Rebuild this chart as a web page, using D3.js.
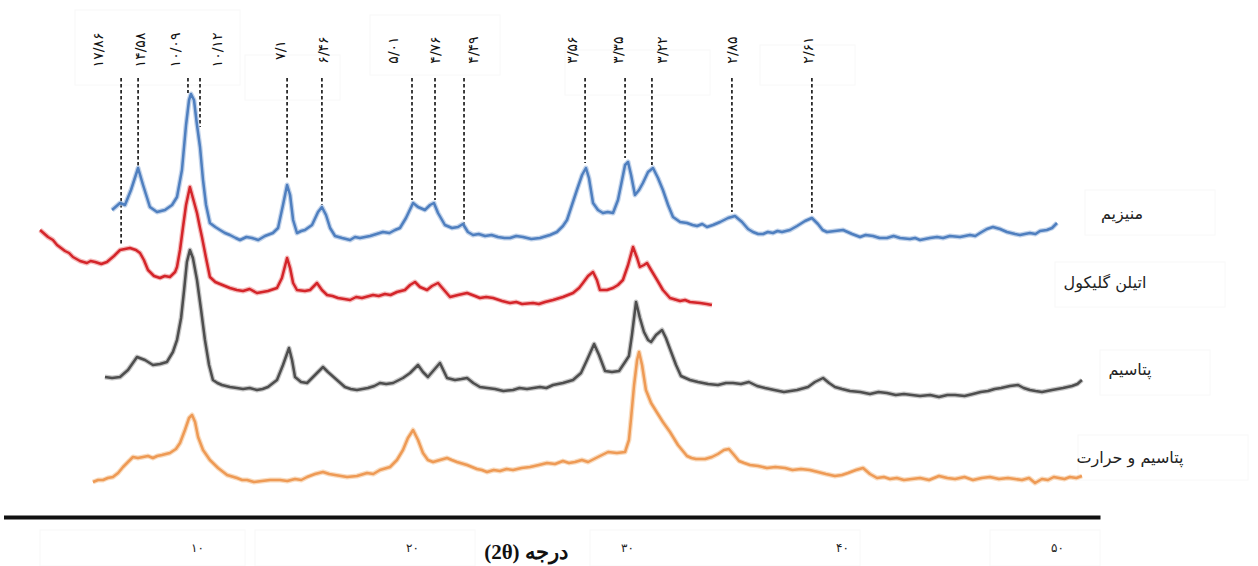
<!DOCTYPE html>
<html>
<head>
<meta charset="utf-8">
<script src="https://cdn.jsdelivr.net/npm/d3@7"></script>
<style>
  html, body { margin: 0; padding: 0; background: #fff; }
  svg { display: block; }
</style>
</head>
<body>
<svg id="chart" width="1258" height="566"></svg>
<script>
// ---------------- DATA ----------------
// x: 2θ (degrees), y: relative intensity (stacked, arbitrary units)
const magnesium = [
  [6.05,330],[6.42,337],[6.65,335],[6.93,350],[7.26,372],[7.49,355],[7.81,333],[8.14,328],[8.51,330],[8.84,335],
  [9.07,343],[9.30,370],[9.49,415],[9.63,440],[9.72,446],[9.86,440],[10.00,415],[10.14,393],[10.28,360],[10.42,335],
  [10.60,317],[10.85,313],[11.07,310],[11.30,307],[11.53,305],[11.80,302],[12.00,300],[12.30,303],[12.56,302],[12.85,300],
  [13.16,304],[13.53,307],[13.77,312],[14.00,335],[14.19,355],[14.33,345],[14.47,320],[14.65,307],[14.85,309],[15.02,310],
  [15.35,315],[15.63,328],[15.81,333],[16.00,325],[16.19,312],[16.42,304],[16.75,302],[17.12,300],[17.35,303],[17.58,302],
  [18.05,304],[18.35,306],[18.65,308],[18.95,307],[19.21,310],[19.44,312],[19.72,322],[20.05,337],[20.28,333],[20.60,330],
  [20.84,335],[21.02,337],[21.21,327],[21.53,315],[21.86,312],[22.14,313],[22.37,316],[22.60,308],[22.84,305],[23.10,306],
  [23.40,304],[23.70,305],[24.00,303],[24.30,302],[24.56,302],[24.85,304],[25.16,303],[25.55,301],[25.95,302],[26.42,305],
  [26.74,308],[27.02,314],[27.21,320],[27.44,335],[27.67,350],[27.91,365],[28.09,372],[28.23,362],[28.42,337],[28.65,330],
  [28.88,327],[29.10,328],[29.35,327],[29.58,340],[29.77,360],[29.91,375],[30.05,378],[30.19,365],[30.37,345],[30.56,350],
  [30.74,357],[30.98,368],[31.21,372],[31.44,362],[31.67,350],[31.91,335],[32.14,323],[32.47,318],[32.79,317],[33.05,315],
  [33.26,314],[33.50,316],[33.72,313],[34.00,315],[34.33,318],[34.70,322],[35.02,324],[35.35,318],[35.63,311],[35.86,308],
  [36.10,306],[36.33,306],[36.55,308],[36.79,307],[37.00,309],[37.21,308],[37.58,310],[37.91,314],[38.28,319],[38.60,322],
  [38.88,316],[39.10,310],[39.30,308],[39.67,309],[40.05,310],[40.47,306],[40.84,303],[41.10,305],[41.44,304],[41.75,302],
  [42.09,302],[42.40,304],[42.70,302],[43.16,301],[43.40,302],[43.63,300],[44.09,302],[44.42,303],[44.70,302],[45.02,304],
  [45.49,303],[45.95,305],[46.20,304],[46.42,307],[46.74,311],[47.02,313],[47.35,311],[47.67,308],[48.05,306],[48.28,305],
  [48.50,306],[48.74,307],[49.00,306],[49.21,309],[49.53,310],[49.77,312],[50.00,317]
];

const ethyleneGlycol = [
  [2.70,310],[3.07,303],[3.30,300],[3.49,295],[3.86,289],[4.05,287],[4.23,283],[4.56,279],[4.88,277],[5.05,279],
  [5.26,278],[5.55,276],[5.81,278],[6.14,284],[6.42,290],[6.65,291],[6.88,292],[7.16,290],[7.35,287],[7.53,280],
  [7.72,270],[8.00,264],[8.28,262],[8.50,264],[8.74,263],[8.98,268],[9.07,273],[9.21,290],[9.35,313],[9.49,335],
  [9.67,353],[9.81,342],[10.00,327],[10.14,312],[10.23,303],[10.42,282],[10.60,263],[10.85,258],[11.07,256],[11.30,254],
  [11.53,252],[11.85,250],[12.14,249],[12.45,251],[12.79,247],[13.05,248],[13.30,249],[13.72,252],[13.95,262],[14.19,282],
  [14.33,272],[14.47,257],[14.65,250],[15.02,249],[15.26,250],[15.58,257],[15.81,250],[16.05,245],[16.30,244],[16.56,242],
  [16.85,241],[17.12,240],[17.40,243],[17.67,242],[18.19,245],[18.45,244],[18.74,246],[19.00,245],[19.30,248],[19.67,250],
  [19.91,255],[20.14,258],[20.37,253],[20.70,250],[20.93,254],[21.21,257],[21.49,250],[21.77,243],[22.14,245],[22.56,247],
  [22.93,244],[23.16,242],[23.45,243],[23.77,242],[24.19,239],[24.56,237],[24.85,238],[25.12,236],[25.63,237],[25.90,236],
  [26.19,238],[26.56,240],[27.02,243],[27.49,247],[27.77,252],[27.95,257],[28.19,264],[28.42,268],[28.60,260],[28.74,250],
  [29.07,250],[29.35,252],[29.58,255],[29.81,260],[30.05,275],[30.28,293],[30.47,282],[30.60,273],[30.79,275],[30.93,277],
  [31.12,270],[31.40,260],[31.67,250],[32.00,242],[32.47,239],[32.70,240],[32.93,238],[33.40,237],[33.70,236],[33.95,235]
];

const potassium = [
  [5.72,163],[6.05,162],[6.42,163],[6.79,170],[7.21,183],[7.58,180],[7.95,175],[8.28,176],[8.60,178],[8.88,188],
  [9.07,200],[9.26,222],[9.40,250],[9.53,278],[9.67,290],[9.81,282],[10.00,260],[10.19,230],[10.37,200],[10.56,175],
  [10.74,160],[10.95,157],[11.16,155],[11.53,153],[11.85,152],[12.14,151],[12.45,152],[12.79,150],[13.05,151],[13.30,153],
  [13.72,160],[14.00,175],[14.28,192],[14.42,180],[14.56,163],[14.84,158],[15.12,157],[15.49,165],[15.86,173],[16.09,168],
  [16.51,160],[16.88,153],[17.15,151],[17.44,150],[17.95,152],[18.25,154],[18.51,157],[18.80,156],[19.12,157],[19.58,162],
  [19.91,167],[20.28,175],[20.51,168],[20.74,163],[21.02,170],[21.30,177],[21.63,162],[22.00,160],[22.30,161],[22.56,162],
  [22.85,157],[23.16,153],[23.50,152],[23.86,151],[24.25,149],[24.70,150],[25.00,152],[25.35,151],[25.95,153],[26.25,152],
  [26.56,155],[27.02,157],[27.49,160],[27.86,167],[28.14,180],[28.47,196],[28.70,185],[28.98,169],[29.30,168],[29.63,169],
  [29.91,178],[30.09,184],[30.23,205],[30.42,238],[30.60,222],[30.79,208],[30.98,200],[31.12,198],[31.35,205],[31.63,210],
  [31.81,202],[32.00,191],[32.28,175],[32.51,164],[32.93,160],[33.30,158],[33.77,156],[34.23,155],[34.60,157],[34.93,157],
  [35.30,156],[35.67,158],[36.05,154],[36.42,152],[36.85,150],[37.30,148],[37.91,150],[38.42,153],[38.74,158],[39.12,162],
  [39.40,157],[39.67,153],[40.00,151],[40.37,149],[40.85,148],[41.30,146],[41.70,148],[42.09,147],[42.50,145],[42.88,146],
  [43.25,145],[43.63,144],[44.10,145],[44.51,143],[44.90,145],[45.26,145],[45.70,144],[46.09,146],[46.45,148],[46.79,149],
  [47.10,151],[47.40,152],[47.81,154],[48.19,155],[48.45,152],[48.74,150],[49.00,149],[49.30,148],[49.77,150],[50.28,152],
  [50.70,154],[50.95,156],[51.16,160]
];

const potassiumHeat = [
  [5.16,58],[5.40,60],[5.63,60],[5.85,62],[6.09,63],[6.33,67],[6.56,73],[6.79,78],[7.02,83],[7.25,82],
  [7.49,83],[7.72,84],[7.95,82],[8.15,84],[8.37,85],[8.55,86],[8.74,87],[9.02,91],[9.21,97],[9.44,110],
  [9.63,122],[9.77,125],[9.91,118],[10.05,103],[10.28,90],[10.60,80],[10.98,72],[11.40,65],[11.86,62],[12.10,60],
  [12.33,60],[12.65,58],[13.02,59],[13.40,60],[13.86,60],[14.20,59],[14.56,61],[14.85,60],[15.12,63],[15.49,66],
  [15.86,68],[16.15,66],[16.42,65],[16.70,64],[16.98,63],[17.44,64],[17.91,67],[18.20,66],[18.51,70],[18.98,73],
  [19.30,80],[19.58,90],[19.81,102],[20.05,110],[20.28,100],[20.51,87],[20.74,80],[20.98,78],[21.30,80],[21.63,82],
  [21.85,80],[22.09,78],[22.56,75],[23.02,71],[23.25,70],[23.49,68],[23.80,70],[24.09,69],[24.40,71],[24.70,70],
  [25.10,72],[25.49,73],[25.90,75],[26.28,77],[26.65,76],[27.02,79],[27.30,77],[27.58,78],[27.90,80],[28.19,78],
  [28.65,83],[29.12,88],[29.53,87],[29.91,88],[30.09,100],[30.19,122],[30.33,155],[30.47,180],[30.56,188],[30.70,175],
  [30.88,150],[31.12,137],[31.35,129],[31.67,118],[32.00,108],[32.37,95],[32.79,84],[33.00,82],[33.21,81],[33.63,81],
  [33.95,83],[34.23,86],[34.51,90],[34.74,91],[34.98,85],[35.21,79],[35.45,77],[35.72,75],[36.10,74],[36.51,72],
  [36.90,73],[37.35,72],[37.70,70],[38.09,71],[38.50,70],[38.88,68],[39.25,66],[39.67,64],[40.00,65],[40.28,67],
  [40.65,70],[40.98,72],[41.30,66],[41.63,62],[41.95,63],[42.23,61],[42.55,62],[42.88,60],[43.25,61],[43.63,62],
  [44.05,60],[44.51,64],[44.90,62],[45.26,61],[45.70,63],[46.09,60],[46.50,62],[46.88,63],[47.30,61],[47.72,62],
  [48.05,61],[48.37,60],[48.70,62],[48.98,57],[49.30,61],[49.58,60],[49.85,63],[50.09,62],[50.35,61],[50.60,63],
  [50.90,62],[51.16,64]
];

// d-spacing annotations (Å, Persian digits)
const peakLabels = ["۱۷/۸۶","۱۴/۵۸","۱۰/۰۹","۱۰/۱۲","۷/۱","۶/۴۶","۵/۰۱","۴/۷۶","۴/۴۹","۳/۵۶","۳/۳۵","۳/۲۲","۲/۸۵","۲/۶۱"];
const peakTheta   = [6.47, 7.26, 9.58, 10.14, 14.19, 15.81, 20.00, 21.07, 22.42, 28.05, 29.91, 31.16, 34.88, 38.60];
const peakEnd     = [295, 372, 447, 413, 360, 335, 340, 340, 312, 377, 382, 375, 328, 327];
const labelTheta  = [5.40, 7.35, 8.98, 10.93, 13.86, 15.86, 19.12, 21.07, 22.84, 27.44, 29.58, 31.63, 34.88, 38.42];

const seriesNames  = ["منیزیم","اتیلن گلیکول","پتاسیم","پتاسیم و حرارت"];
const tickValues   = [10, 20, 30, 40, 50];
const tickLabels   = ["۱۰","۲۰","۳۰","۴۰","۵۰"];
const axisTitle    = "درجه (2θ)";

// ---------------- LAYOUT / STYLE ----------------
const svg = d3.select("#chart");
const x = d3.scaleLinear().domain([1, 52]).range([3.5, 1100]);
const y = d3.scaleLinear().domain([0, 500]).range([540, 40]);

const seriesData   = [magnesium, ethyleneGlycol, potassium, potassiumHeat];
const seriesColors = ["#4f7fbf", "#d4252a", "#4e4e4e", "#ee9a55"];
const haloColors   = ["#a9c2e2", "#f0a0a0", "#b0b0b0", "#f6cda5"];
const legendPos    = [[1122, 219], [1105, 288], [1130, 375], [1130, 463]];

const line = d3.line().x(d => x(d[0])).y(d => y(d[1])).curve(d3.curveLinear);

// faint scan boxes (background)
const boxes = [[75,10,165,75],[245,55,95,45],[370,15,130,60],[565,50,145,45],[760,45,95,40],
               [1085,190,130,45],[1055,262,170,45],[1100,350,110,45],[1078,435,170,45],
               [40,530,205,36],[255,530,220,36],[590,530,270,36],[990,530,110,36]];
svg.append("g").selectAll("rect").data(boxes).join("rect")
  .attr("x", d => d[0]).attr("y", d => d[1]).attr("width", d => d[2]).attr("height", d => d[3])
  .attr("fill", "none").attr("stroke", "#f8f8f8").attr("stroke-width", 1);

// dashed drop lines
const dashTop = 462;
svg.append("g").selectAll("line").data(peakTheta).join("line")
  .attr("x1", d => x(d)).attr("x2", d => x(d))
  .attr("y1", y(dashTop)).attr("y2", (d, i) => y(peakEnd[i]))
  .attr("stroke", "#111").attr("stroke-width", 1.6).attr("stroke-dasharray", "3.5,2.5");

// peak labels (rotated)
svg.append("g").selectAll("text").data(peakLabels).join("text")
  .attr("transform", (d, i) => `translate(${x(labelTheta[i]) + 5},50) rotate(-90)`)
  .attr("text-anchor", "middle")
  .attr("font-family", "'DejaVu Sans', 'Noto Sans', sans-serif")
  .attr("font-size", 14)
  .attr("fill", "#111")
  .text(d => d);

// series halos + lines
const gLines = svg.append("g");
seriesData.forEach((s, i) => {
  gLines.append("path").datum(s).attr("d", line)
    .attr("fill", "none").attr("stroke", haloColors[i]).attr("stroke-width", 5)
    .attr("stroke-linejoin", "round").attr("stroke-opacity", 0.7);
});
seriesData.forEach((s, i) => {
  gLines.append("path").datum(s).attr("d", line)
    .attr("fill", "none").attr("stroke", seriesColors[i]).attr("stroke-width", 2.5)
    .attr("stroke-linejoin", "round");
});

// legend labels
svg.append("g").selectAll("text").data(seriesNames).join("text")
  .attr("x", (d, i) => legendPos[i][0]).attr("y", (d, i) => legendPos[i][1])
  .attr("text-anchor", "middle")
  .attr("direction", "rtl")
  .attr("font-family", "'DejaVu Sans', 'Noto Sans', sans-serif")
  .attr("font-size", 16)
  .attr("fill", "#222")
  .text(d => d);

// x axis
const axis = d3.axisBottom(x).tickValues(tickValues)
  .tickFormat((d, i) => tickLabels[i]).tickSize(0).tickSizeOuter(0).tickPadding(26);
const gAxis = svg.append("g").attr("transform", "translate(0,517)").call(axis);
gAxis.select(".domain").attr("stroke", "#111").attr("stroke-width", 4);
gAxis.selectAll("text").attr("font-family", "'DejaVu Sans', sans-serif").attr("font-size", 12).attr("fill", "#222");

// axis title
svg.append("text")
  .attr("x", 526).attr("y", 559)
  .attr("text-anchor", "middle")
  .attr("direction", "rtl")
  .attr("font-family", "'Liberation Serif', 'DejaVu Serif', serif")
  .attr("font-weight", "bold")
  .attr("font-size", 21)
  .attr("fill", "#111")
  .text(axisTitle);
</script>
</body>
</html>
